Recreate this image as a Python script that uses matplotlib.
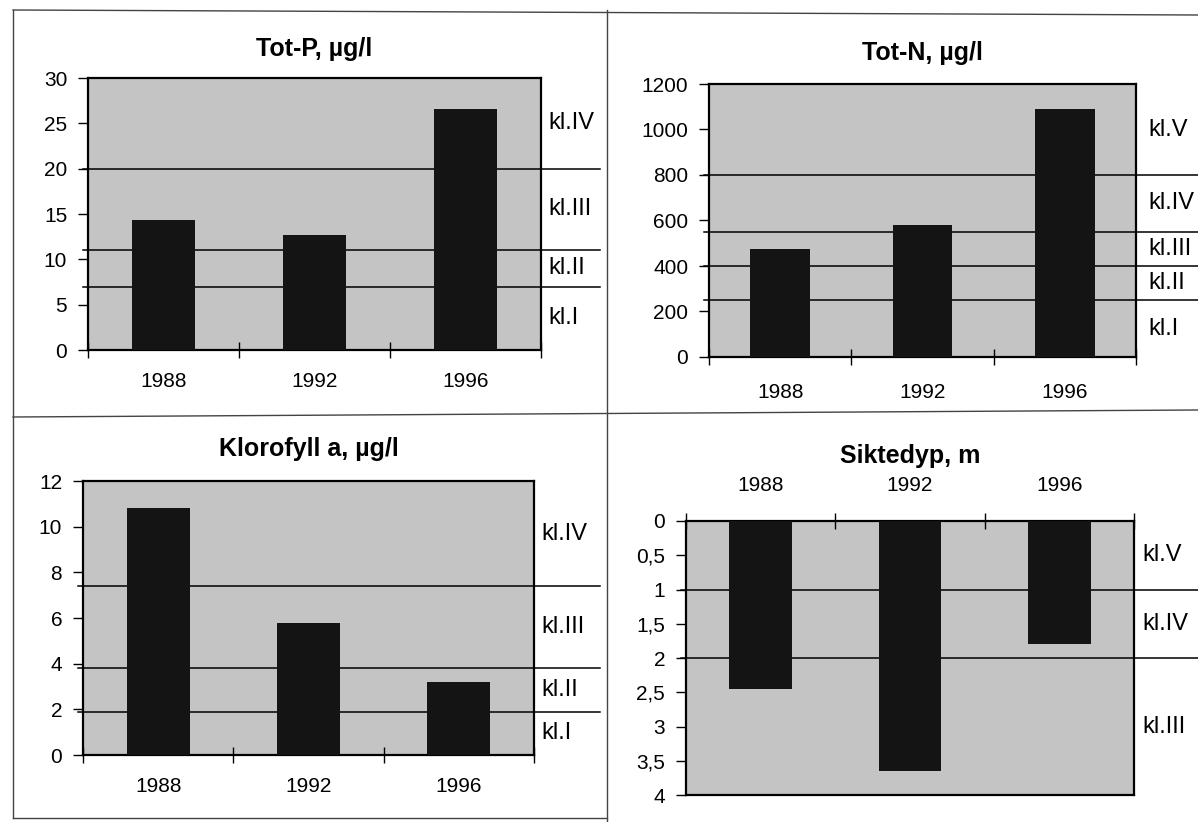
import numpy as np
import matplotlib.pyplot as plt
from matplotlib.lines import Line2D

plt.rcParams['font.family'] = ['Liberation Sans', 'DejaVu Sans']

# data
years = ["1988", "1992", "1996"]

totp_values = [14.3, 12.7, 26.6]
totp_limits = [7, 11, 20]
totp_classes = ["kl.I", "kl.II", "kl.III", "kl.IV"]
totp_ticks = [0, 5, 10, 15, 20, 25, 30]

totn_values = [475, 580, 1090]
totn_limits = [250, 400, 550, 800]
totn_classes = ["kl.I", "kl.II", "kl.III", "kl.IV", "kl.V"]
totn_ticks = [0, 200, 400, 600, 800, 1000, 1200]

klorofyll_values = [10.8, 5.8, 3.2]
klorofyll_limits = [1.9, 3.8, 7.4]
klorofyll_classes = ["kl.I", "kl.II", "kl.III", "kl.IV"]
klorofyll_ticks = [0, 2, 4, 6, 8, 10, 12]

siktedyp_values = [2.45, 3.65, 1.8]
siktedyp_limits = [1, 2]
siktedyp_classes = ["kl.V", "kl.IV", "kl.III"]
siktedyp_ticks = [0, 0.5, 1, 1.5, 2, 2.5, 3, 3.5, 4]
siktedyp_ticklabels = ["0", "0,5", "1", "1,5", "2", "2,5", "3", "3,5", "4"]

W, H = 1198, 822
bg = "#c4c4c4"
bar_color = "#141414"

fig = plt.figure(figsize=(W / 100, H / 100), dpi=100)


def box(l, t, r, b):
    return [l / W, 1 - b / H, (r - l) / W, (b - t) / H]


def panel(rect, title, values, limits, classes, ticks, line_end, label_x,
          ticklabels=None, inverted=False, title_pad=16, year_pad=17):
    ax = fig.add_axes(box(*rect))
    ax.set_facecolor(bg)
    x = np.arange(len(years))
    ax.bar(x, values, width=0.42, color=bar_color, zorder=3)

    ax.set_xlim(-0.5, len(years) - 0.5)
    lo, hi = ticks[0], ticks[-1]
    if inverted:
        ax.set_ylim(hi, lo)
    else:
        ax.set_ylim(lo, hi)

    # class boundaries run out past the plot to the panel edge
    width = rect[2] - rect[0]
    xstart = -5 / width
    xend = (line_end - rect[0]) / width
    for lim in limits:
        ax.axhline(lim, xmin=xstart, xmax=xend, color="black", lw=1.1,
                   clip_on=False, zorder=2)

    edges = [lo] + list(limits) + [hi]
    lx = (label_x - rect[0]) / width
    for i, cls in enumerate(classes):
        mid = (edges[i] + edges[i + 1]) / 2
        ax.text(lx, mid, cls, transform=ax.get_yaxis_transform(),
                ha="left", va="center", fontsize=17)

    ax.set_yticks(ticks)
    if ticklabels is not None:
        ax.set_yticklabels(ticklabels)
    ax.tick_params(axis="y", direction="out", length=7, width=1,
                   labelsize=15, pad=8)

    ax.set_xticks(np.arange(len(years) + 1) - 0.5)
    ax.set_xticklabels([])
    ax.set_xticks(x, minor=True)
    ax.set_xticklabels(years, minor=True)
    ax.tick_params(axis="x", which="major", direction="inout", length=12,
                   width=1)
    ax.tick_params(axis="x", which="minor", length=0, labelsize=15,
                   pad=year_pad)
    if inverted:
        ax.xaxis.tick_top()

    for s in ax.spines.values():
        s.set_linewidth(1.6)
        s.set_color("black")

    ax.set_title(title, fontsize=18, fontweight="bold", pad=title_pad)
    return ax


panel((88, 78, 541, 350), "Tot-P, µg/l", totp_values, totp_limits,
      totp_classes, totp_ticks, 600, 548, title_pad=16, year_pad=16)
panel((709, 84, 1136, 357), "Tot-N, µg/l", totn_values, totn_limits,
      totn_classes, totn_ticks, 1198, 1148, title_pad=17, year_pad=19)
panel((83, 481, 534, 755), "Klorofyll a, µg/l", klorofyll_values,
      klorofyll_limits, klorofyll_classes, klorofyll_ticks, 600, 541,
      title_pad=18, year_pad=16)
panel((686, 521, 1134, 795), "Siktedyp, m", siktedyp_values,
      siktedyp_limits, siktedyp_classes, siktedyp_ticks, 1198, 1142,
      ticklabels=siktedyp_ticklabels, inverted=True, title_pad=42,
      year_pad=19)

# page frame lines of the scanned figure
frame = dict(color="#444444", lw=1.0)
fig.add_artist(Line2D([13 / W, 1], [1 - 10 / H, 1 - 15 / H], **frame))
fig.add_artist(Line2D([13 / W, 13 / W], [1 - 10 / H, 1 - 818 / H], **frame))
fig.add_artist(Line2D([607 / W, 607 / W], [1 - 10 / H, 0], **frame))
fig.add_artist(Line2D([13 / W, 1], [1 - 417 / H, 1 - 410 / H], **frame))
fig.add_artist(Line2D([13 / W, 607 / W], [1 - 818 / H, 1 - 818 / H], **frame))

fig.savefig("out.png", dpi=100)
